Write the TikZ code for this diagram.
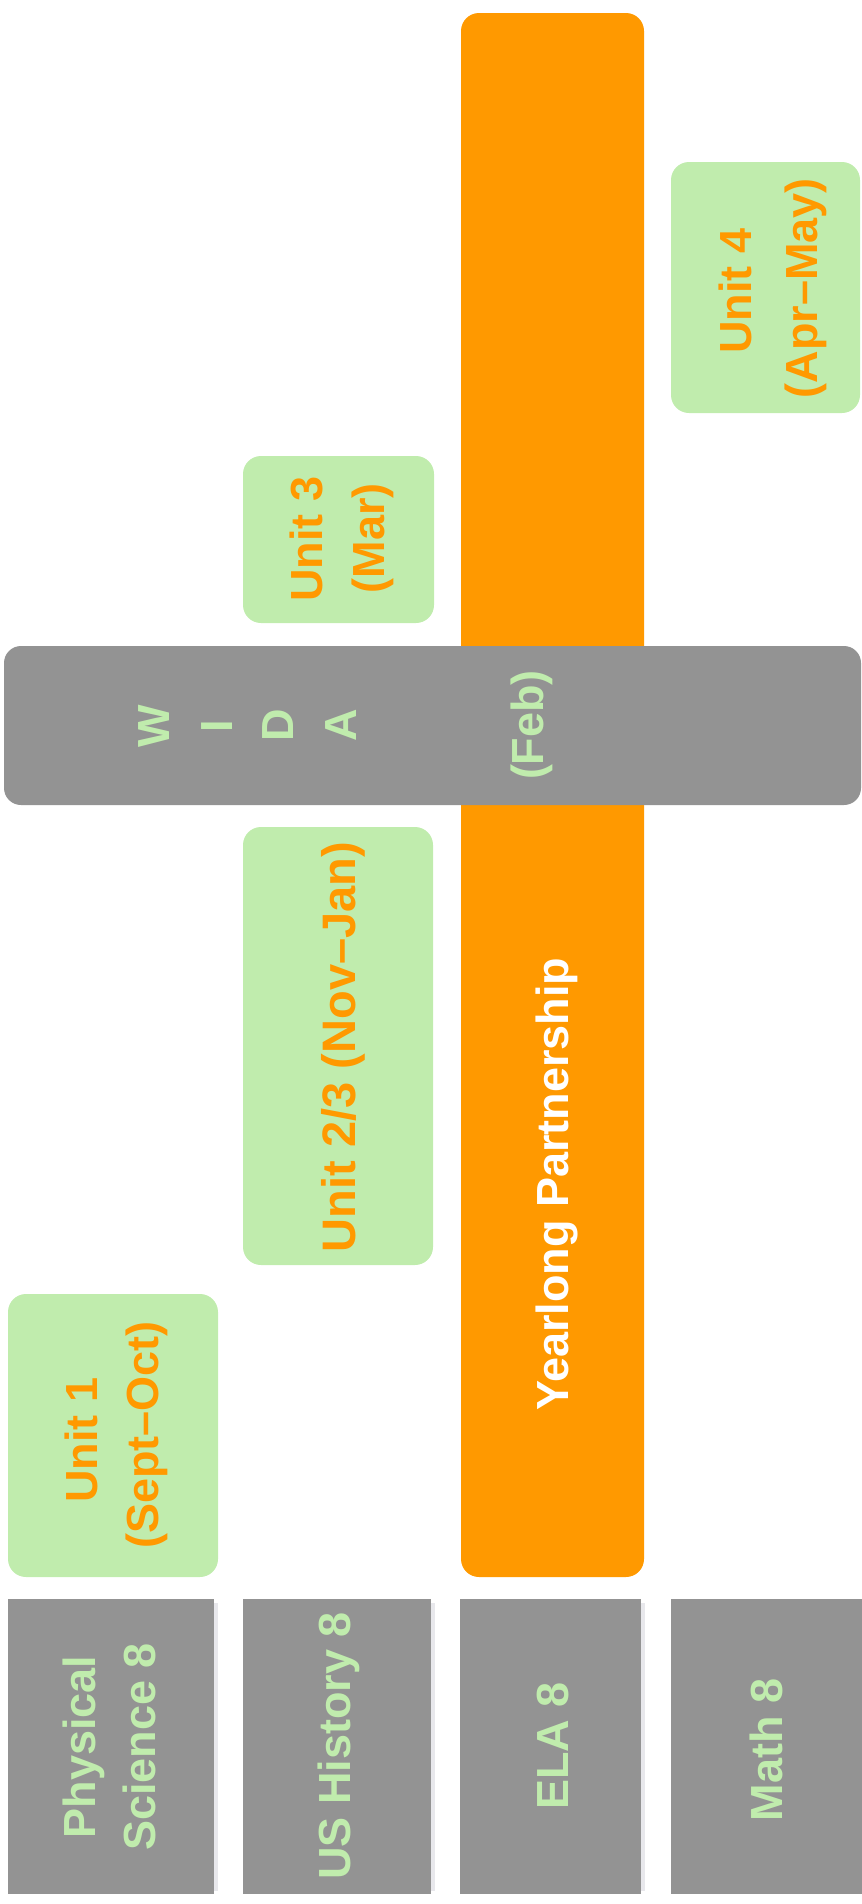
\documentclass[tikz,border=0pt]{standalone}
\usepackage{fontspec}
\setmainfont{Liberation Sans}
\definecolor{cgray}{RGB}{147,147,147}
\definecolor{cgreen}{RGB}{192,236,173}
\definecolor{corange}{RGB}{255,153,0}
\definecolor{cshadow}{RGB}{232,232,236}
\begin{document}
\begin{tikzpicture}[x=1pt,y=-1pt,
  box/.style={inner sep=0pt,outer sep=0pt,draw=none,anchor=north west},
  subj/.style={box,fill=cgray},
  unitbox/.style={box,fill=cgreen,rounded corners=18pt},
  bar/.style={box,fill=corange,rounded corners=18pt},
  widabox/.style={box,fill=cgray,rounded corners=17pt},
  shade/.style={box,fill=cshadow},
  lbl/.style={inner sep=0pt,outer sep=0pt,rotate=90,anchor=base,font=\bfseries\fontsize{45pt}{54pt}\selectfont},
  gtxt/.style={lbl,text=cgreen},
  otxt/.style={lbl,text=corange},
  wtxt/.style={lbl,text=white}]
\useasboundingbox (0,0) rectangle (862,1904);
% subject boxes
\node[shade,minimum width=4pt,minimum height=288pt] (ps shadow) at (214,1603) {};
\node[shade,minimum width=4pt,minimum height=288pt] (ush shadow) at (431,1603) {};
\node[shade,minimum width=4pt,minimum height=288pt] (ela shadow) at (641,1603) {};
\node[subj,minimum width=206pt,minimum height=295pt] (ps box) at (8,1599) {};
\node[subj,minimum width=188pt,minimum height=295pt] (ush box) at (243,1599) {};
\node[subj,minimum width=181pt,minimum height=295pt] (ela box) at (460,1599) {};
\node[subj,minimum width=191pt,minimum height=295pt] (math box) at (671,1599) {};
% yearlong bar
\node[bar,minimum width=183pt,minimum height=1564pt] (yl box) at (461,13) {};
% unit boxes
\node[unitbox,minimum width=189pt,minimum height=251pt] (u4 box) at (671,162) {};
\node[unitbox,minimum width=191pt,minimum height=167pt] (u3 box) at (243,456) {};
\node[unitbox,minimum width=190pt,minimum height=438pt] (u23 box) at (243,827) {};
\node[unitbox,minimum width=210pt,minimum height=283pt] (u1 box) at (8,1294) {};
% WIDA
\node[widabox,minimum width=857pt,minimum height=159pt] (wida box) at (4,646) {};
% texts
\node[gtxt] (ps1) at (95,1747) {Physical};
\node[gtxt] (ps2) at (155,1747) {Science 8};
\node[gtxt] (ush) at (350,1746) {US History 8};
\node[gtxt] (ela) at (568,1746) {ELA 8};
\node[gtxt] (math) at (782,1750) {Math 8};
\node[otxt] (u1a) at (97,1440) {Unit 1};
\node[otxt] (u1b) at (158,1435) {(Sept–Oct)};
\node[otxt,font=\bfseries\fontsize{47pt}{56pt}\selectfont] (u23) at (355,1047) {Unit 2/3 (Nov–Jan)};
\node[otxt] (u3a) at (322,539) {Unit 3};
\node[otxt] (u3b) at (384,538) {(Mar)};
\node[otxt] (u4a) at (751,291) {Unit 4};
\node[otxt] (u4b) at (817,288) {(Apr–May)};
\node[wtxt] (yl) at (568,1184) {Yearlong Partnership};
\node[gtxt] (wW) at (169,726) {W};
\node[gtxt] (wI) at (232,726) {I};
\node[gtxt] (wD) at (293,725) {D};
\node[gtxt] (wA) at (356,725) {A};
\node[gtxt] (feb) at (543,725) {(Feb)};
\end{tikzpicture}
\end{document}
